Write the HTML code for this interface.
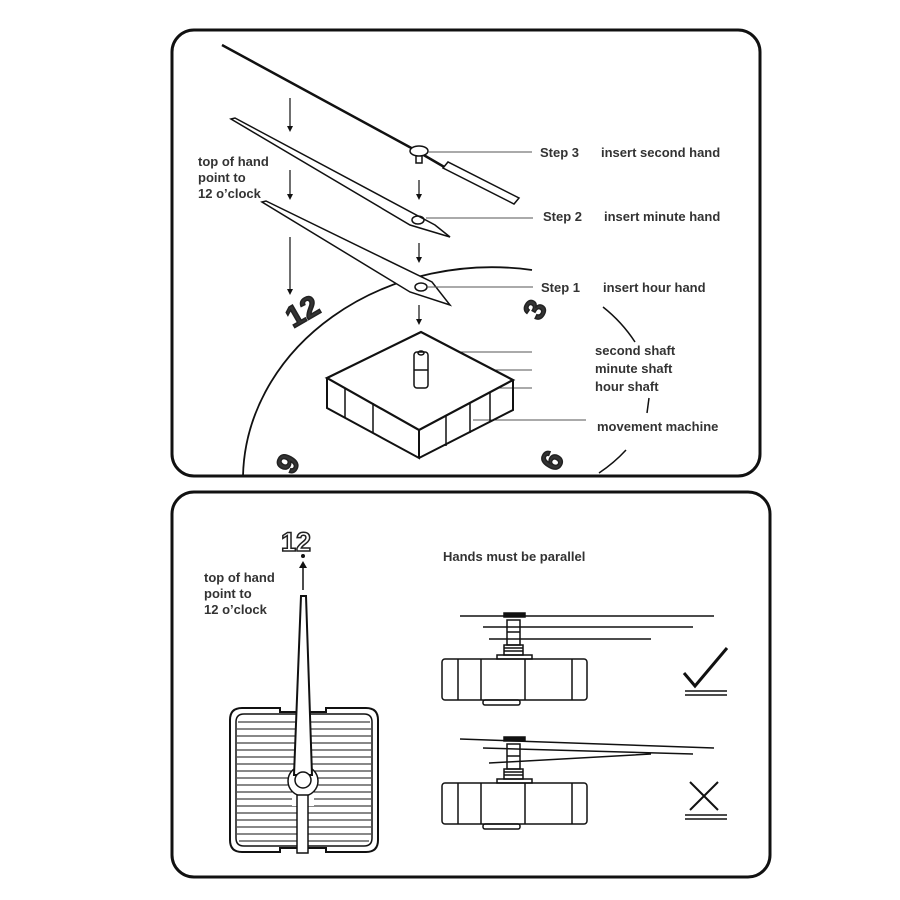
<!DOCTYPE html>
<html><head><meta charset="utf-8"><style>
html,body{margin:0;padding:0;background:#fff}
svg{display:block}
text{font-family:"Liberation Sans",sans-serif;font-weight:bold;fill:#333}
</style></head><body>
<svg width="900" height="900" viewBox="0 0 900 900" xmlns="http://www.w3.org/2000/svg">
<defs><clipPath id="c1"><rect x="172" y="30" width="588" height="446" rx="22"/></clipPath></defs>
<g fill="none" stroke="#111" stroke-width="1.5">
<g clip-path="url(#c1)">
<path d="M243,476 A249,213 0 0 1 532,270" stroke-width="1.8"/>
</g>
<rect x="172" y="30" width="588" height="446" rx="22" stroke-width="3"/>
<path d="M603,307 Q622,322 635,342"/>
<path d="M649,398 L647,413"/>
<path d="M626,450 Q614,463 599,473"/>
<path d="M222,45 L415,150 L446,168" stroke-width="2.5"/>
<path d="M224,44 L417,148" stroke="#fff" stroke-width="0.8"/>
<polygon points="443,168 448,162 519,198 514,204" fill="#fff"/>
<ellipse cx="419" cy="151" rx="9" ry="5" fill="#fff"/>
<path d="M416,155 L416,163 L422,163 L422,155"/>
<polygon points="231,119 235,118 435,225 450,237 410,225" fill="#fff"/>
<ellipse cx="418" cy="220" rx="6" ry="4"/>
<polygon points="262,202 266,201 432,282 450,305 410,292" fill="#fff"/>
<ellipse cx="421" cy="287" rx="6" ry="4"/>
<g stroke-width="1.2">
<path d="M290,98 V128"/><path d="M290,170 V196"/><path d="M290,237 V291"/>
<path d="M419,180 V196"/><path d="M419,243 V259"/><path d="M419,305 V321"/>
</g>
<g fill="#111" stroke="none">
<polygon points="287,126 293,126 290,132"/><polygon points="287,194 293,194 290,200"/><polygon points="287,289 293,289 290,295"/>
<polygon points="416,194 422,194 419,200"/><polygon points="416,257 422,257 419,263"/><polygon points="416,319 422,319 419,325"/>
</g>
<g stroke="#555" stroke-width="1">
<path d="M428,152 H532"/><path d="M426,218 H533"/><path d="M428,287 H533"/>
<path d="M421,352 H532"/><path d="M424,370 H532"/><path d="M424,388 H532"/>
<path d="M473,420 H586"/>
</g>
<path d="M327,378 L421,332 L513,380 L419,430 Z" fill="#fff" stroke-width="2.2"/>
<path d="M327,378 V408 L419,458 V430" stroke-width="2"/>
<path d="M419,458 L513,410 V380" stroke-width="2"/>
<path d="M345,388 V418 M373,403 V433 M490,392 V422 M470,403 V433 M446,416 V446"/>
<rect x="414" y="352" width="14" height="36" rx="3" fill="#fff"/>
<path d="M414,370 H428"/><ellipse cx="421" cy="353" rx="3" ry="2"/>
</g>
<g font-size="13">
<text x="540" y="157">Step 3</text><text x="601" y="157">insert second hand</text>
<text x="543" y="221">Step 2</text><text x="604" y="221">insert minute hand</text>
<text x="541" y="292">Step 1</text><text x="603" y="292">insert hour hand</text>
<text x="595" y="355">second shaft</text>
<text x="595" y="373">minute shaft</text>
<text x="595" y="391">hour shaft</text>
<text x="597" y="431">movement  machine</text>
<text x="198" y="166">top of hand</text>
<text x="198" y="182">point to</text>
<text x="198" y="198">12 o’clock</text>
</g>
<g font-size="30" style="fill:#fff;stroke:#222;stroke-width:1.5">
<text x="285" y="320" transform="rotate(-30 305 309)">12</text>
<text x="527" y="320" transform="rotate(-60 535 310)">3</text>
<text x="280" y="474" transform="rotate(-60 288 464)">9</text>
<text x="544" y="471" transform="rotate(-60 552 461)">6</text>
</g>
<g fill="none" stroke="#111" stroke-width="1.5">
<rect x="172" y="492" width="598" height="385" rx="22" stroke-width="3"/>
<path d="M303,590 V566"/>
<path d="M242,708 H280 V712 H326 V708 H366 Q378,708 378,720 V840 Q378,852 366,852 H326 V848 H280 V852 H242 Q230,852 230,840 V720 Q230,708 242,708 Z" stroke-width="2"/>
<path d="M244,714 H364 Q372,714 372,722 V838 Q372,846 364,846 H244 Q236,846 236,838 V722 Q236,714 244,714 Z"/>
<g stroke-width="1">
<path d="M238,722H370M237,729H371M237,736H371M237,743H371M237,750H371M237,757H371M237,764H371M237,771H371M237,778H371M237,785H371M237,792H371M237,799H371M237,806H371M237,813H371M237,820H371M237,827H371M237,834H371M239,841H369"/>
</g>
<rect x="292" y="770" width="22" height="36" fill="#fff" stroke="none"/>
<circle cx="303" cy="781" r="15" fill="#fff"/>
<polygon points="301,596 306,596 312,775 294,775" fill="#fff" stroke-width="2"/>
<rect x="297" y="795" width="11" height="58" fill="#fff"/>
<circle cx="303" cy="780" r="8" fill="#fff"/>
<rect x="442" y="659" width="145" height="41" rx="3" fill="#fff"/>
<path d="M458,659V700M481,659V700M525,659V700M572,659V700"/>
<rect x="483" y="700" width="37" height="5" rx="2"/>
<rect x="497" y="655" width="35" height="4"/>
<rect x="504" y="645" width="19" height="10"/>
<path d="M504,648H523M504,651H523"/>
<rect x="507" y="620" width="13" height="25"/>
<path d="M507,632H520"/>
<rect x="504" y="613" width="21" height="4" fill="#111"/>
<path d="M460,616H714M483,627H693M489,639H651"/>
<path d="M684,673 L695,686 L727,648" stroke-width="3"/>
<path d="M685,691H727M685,695H727"/>
<rect x="442" y="783" width="145" height="41" rx="3" fill="#fff"/>
<path d="M458,783V824M481,783V824M525,783V824M572,783V824"/>
<rect x="483" y="824" width="37" height="5" rx="2"/>
<rect x="497" y="779" width="35" height="4"/>
<rect x="504" y="769" width="19" height="10"/>
<path d="M504,772H523M504,775H523"/>
<rect x="507" y="744" width="13" height="25"/>
<path d="M507,756H520"/>
<rect x="504" y="737" width="21" height="4" fill="#111"/>
<path d="M460,739L714,748M483,748L693,754M489,763L651,754"/>
<path d="M690,782L718,810M718,782L690,810" stroke-width="2"/>
<path d="M685,815H727M685,819H727"/>
</g>
<polygon points="299,568 307,568 303,561" fill="#111"/>
<circle cx="303" cy="556" r="2" fill="#111"/>
<text x="281" y="551" font-size="27" style="fill:#fff;stroke:#222;stroke-width:1.5">12</text>
<g font-size="13">
<text x="204" y="582">top of hand</text>
<text x="204" y="598">point to</text>
<text x="204" y="614">12 o’clock</text>
<text x="443" y="561">Hands must be parallel</text>
</g>
</svg>
</body></html>
